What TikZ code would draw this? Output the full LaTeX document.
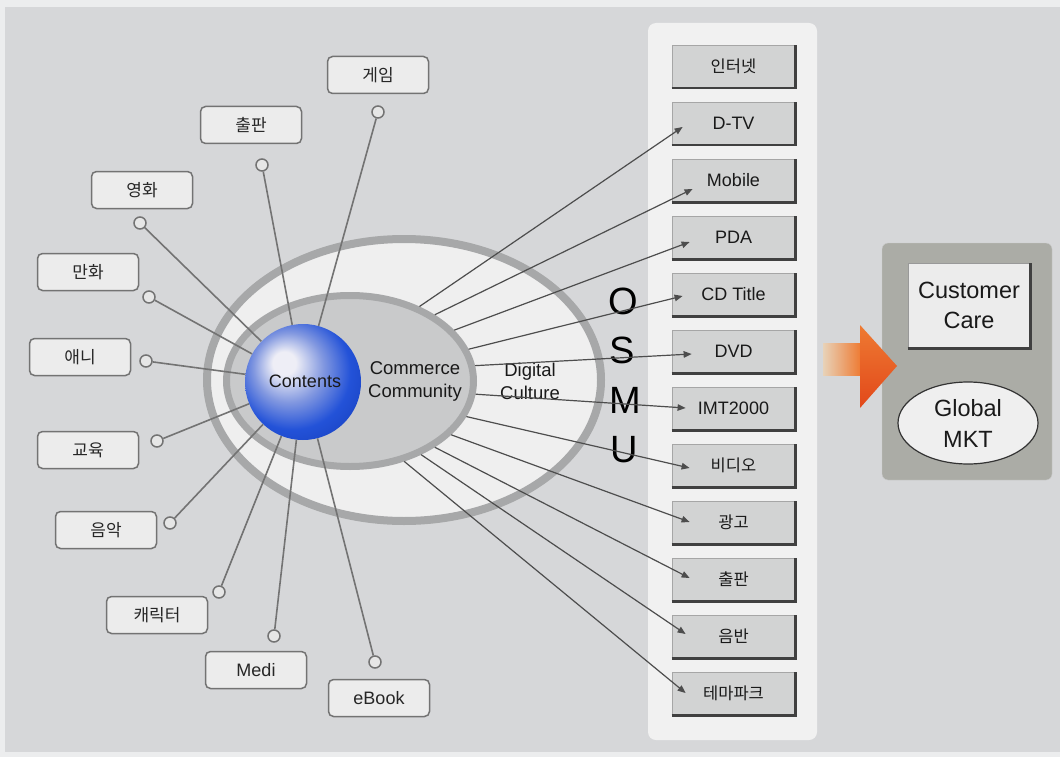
\documentclass[tikz,border=0pt]{standalone}
\usepackage{fontspec}
\setmainfont{Liberation Sans}
\newfontfamily\kr{Noto Sans CJK KR}
\usetikzlibrary{arrows.meta,shapes.geometric}
\definecolor{bg}{HTML}{D6D7D9}
\definecolor{framec}{HTML}{ECEDEE}
\definecolor{linegray}{HTML}{737373}
\definecolor{boxfill}{HTML}{ECECEC}
\definecolor{pinfill}{HTML}{E6E6E6}
\definecolor{ringc}{HTML}{A7A8A9}
\definecolor{outerfill}{HTML}{EFEFEF}
\definecolor{innerfill}{HTML}{C9CACB}
\definecolor{panelc}{HTML}{F1F1F1}
\definecolor{rfill}{HTML}{D2D3D3}
\definecolor{arrgray}{HTML}{4D4D4D}
\definecolor{ballhi}{HTML}{EEEEF6}
\definecolor{ballmid}{HTML}{8298E0}
\definecolor{ballblue}{HTML}{2352D8}
\definecolor{balledge}{HTML}{1A44C4}
\definecolor{orangeA}{HTML}{EE7A32}
\definecolor{orangeB}{HTML}{E2481A}
\definecolor{peach}{HTML}{E8D2B8}
\definecolor{greypanel}{HTML}{ABACA6}
\pgfdeclareradialshading{myball}{\pgfpoint{-9bp}{9bp}}{%
  color(0bp)=(ballhi); color(5bp)=(ballhi); color(15bp)=(ballmid);
  color(25bp)=(ballblue); color(33bp)=(balledge); color(50bp)=(balledge)}
\tikzset{
  lbox/.style={draw=linegray, line width=1.5pt, rounded corners=5pt, fill=boxfill,
    minimum width=101pt, minimum height=37pt, inner sep=0pt,
    font=\kr\fontsize{17}{19}\selectfont, text=black!85},
  pin/.style={circle, draw=linegray, line width=1.5pt, fill=pinfill,
    minimum size=12pt, inner sep=0pt},
  spoke/.style={draw=linegray, line width=1.6pt},
  rbox/.style={draw=black!35, line width=0.8pt, fill=rfill, minimum width=123pt,
    minimum height=43pt, inner sep=0pt, text=black!90},
  rshadow/.style={draw=black!75, line width=2.2pt},
  arr/.style={draw=arrgray, line width=1.2pt, -{Triangle[length=8pt,width=6.5pt]}},
  ring/.style={ellipse, draw=ringc, inner sep=0pt},
  midtext/.style={font=\fontsize{18.5}{23}\selectfont, align=center, text=black!90},
  osmu/.style={font=\fontsize{38}{38}\selectfont, text=black, inner sep=0pt}
}
\begin{document}
\begin{tikzpicture}[x=1pt,y=-1pt]
\useasboundingbox (0,0) rectangle (1060,757);
\fill[framec] (0,0) rectangle (1060,757);
\fill[bg] (5,7) rectangle (1060,752);

% right white panel
\node[fill=panelc, rounded corners=8pt, minimum width=169pt, minimum height=717pt, inner sep=0pt] (panel) at (732.5,381.5) {};

% ellipses
\node[ring, line width=8pt, fill=outerfill, minimum width=394pt, minimum height=282pt] (outer) at (404,380) {};
\node[ring, line width=7pt, fill=innerfill, minimum width=247pt, minimum height=171pt] (inner) at (350,381) {};

% sphere
\node[circle, minimum size=116pt, inner sep=0pt, shading=myball] (sph) at (303,382) {};
\node[font=\fontsize{18}{20}\selectfont, text=black!90] (contents) at (305,381) {Contents};

% left items
\foreach \n/\bx/\by/\px/\py/\t in {
  a/378/75/378/112/게임,
  b/251/125/262/165/출판,
  c/142/190/140/223/영화,
  d/88/272/149/297/만화,
  e/80/357/146/361/애니,
  f/88/450/157/441/교육,
  g/106/530/170/523/음악,
  h/157/615/219/592/캐릭터}{
  \node[lbox] (box\n) at (\bx,\by) {\t};
  \node[pin] (pin\n) at (\px,\py) {};
  \draw[spoke] (pin\n) -- (sph);
}
\node[lbox, font=\fontsize{18}{20}\selectfont] (boxi) at (256,670) {Medi};
\node[pin] (pini) at (274,636) {};
\draw[spoke] (pini) -- (sph);
\node[lbox, font=\fontsize{18}{20}\selectfont] (boxj) at (379,698) {eBook};
\node[pin] (pinj) at (375,662) {};
\draw[spoke] (pinj) -- (sph);

% middle texts
\node[midtext] (cc) at (415,381) {Commerce\\Community};
\node[midtext] (dc) at (530,381) {Digital\\Culture};

% OSMU
\node[osmu] (o1) at (623,301) {O};
\node[osmu] (o2) at (622,350) {S};
\node[osmu] (o3) at (625,400) {M};
\node[osmu] (o4) at (624,450) {U};

% right boxes
\foreach \i/\lbl in {
  1/{\kr\fontsize{16.5}{18}\selectfont 인터넷},
  2/{\fontsize{18}{20}\selectfont D-TV},
  3/{\fontsize{18}{20}\selectfont Mobile},
  4/{\fontsize{18}{20}\selectfont PDA},
  5/{\fontsize{18}{20}\selectfont CD Title},
  6/{\fontsize{18}{20}\selectfont DVD},
  7/{\fontsize{18}{20}\selectfont IMT2000},
  8/{\kr\fontsize{16.5}{18}\selectfont 비디오},
  9/{\kr\fontsize{16.5}{18}\selectfont 광고},
  10/{\kr\fontsize{16.5}{18}\selectfont 출판},
  11/{\kr\fontsize{16.5}{18}\selectfont 음반},
  12/{\kr\fontsize{16.5}{18}\selectfont 테마파크}}{
  \node[rbox] (r\i) at (733.5,{66.5+57*(\i-1)}) {\lbl};
  \draw[rshadow] (r\i.south west) -- (r\i.south east) -- (r\i.north east);
}

% arrows
\foreach \a/\i/\dx/\dy in {
  47.4/2/11/-3.5, 38/3/21/-8.5, 26.8/4/18/-4.5, 15.8/5/11/-1.5, 7.2/6/20/-2.5,
  -6.3/7/14/0.5, -17.4/8/18/-2.5, -28.8/9/18/0.5, -38.2/10/18/1.5,
  -46.6/11/14/2.5, -56.8/12/14/0.5}{
  \draw[arr] (inner.\a) -- ([xshift=\dx pt, yshift=\dy pt]r\i.west);
}

% right grey panel
\node[fill=greypanel, draw=black!20, rounded corners=6pt, minimum width=170pt, minimum height=237pt, inner sep=0pt] (gpanel) at (967,361.5) {};
\node[fill=boxfill, draw=black!40, line width=0.8pt, minimum width=122pt, minimum height=85pt, inner sep=0pt, align=center, font=\fontsize{23.5}{30}\selectfont, text=black!90] (cust) at (969,305.5) {Customer\\Care};
\draw[rshadow] (cust.south west) -- (cust.south east) -- (cust.north east);
\node[ellipse, fill=outerfill, draw=black!80, line width=1.2pt, minimum width=140pt, minimum height=82pt, inner sep=0pt, align=center, font=\fontsize{23.5}{31}\selectfont, text=black!90] (gmkt) at (968,423) {Global\\MKT};

% orange arrow
\shade[left color=peach, right color=orangeA] (823,343) rectangle (861,375);
\shade[top color=orangeA, bottom color=orangeB] (860,325) -- (897,366) -- (860,408) -- cycle;
\end{tikzpicture}
\end{document}
